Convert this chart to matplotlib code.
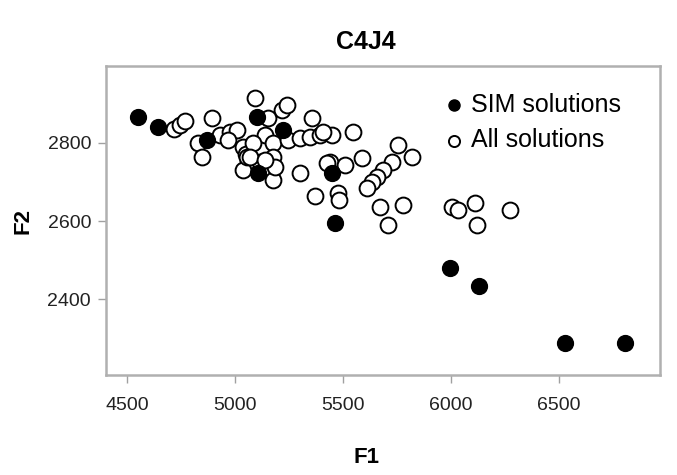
import matplotlib.pyplot as plt

plt.rcParams["font.family"] = ["Liberation Sans", "DejaVu Sans"]

# SIM solutions (filled)
sim_f1 = [4551, 4644, 4870, 5102, 5222, 5106, 5449, 5463, 5995, 6130, 6528, 6806]
sim_f2 = [2867, 2841, 2808, 2867, 2833, 2723, 2723, 2595, 2479, 2433, 2287, 2287]

# All solutions (open)
all_f1 = [4718, 4745, 4769, 4894, 4829, 4847, 4931, 4977, 5009, 4968,
          5037, 5051, 5060, 5037, 5093, 5218, 5241, 5357, 5139, 5083,
          5176, 5245, 5301, 5347, 5394, 5449, 5056, 5116, 5176, 5301,
          5176, 5440, 5546, 5407, 5588, 5509, 5426, 5755, 5820, 5727,
          5685, 5658, 5634, 5611, 5370, 5477, 5481, 5671, 5778, 5708,
          6005, 6032, 6111, 6120, 6273, 5069, 5185, 5139, 5153]
all_f2 = [2836, 2846, 2856, 2864, 2800, 2764, 2821, 2828, 2833, 2808,
          2790, 2772, 2754, 2731, 2915, 2885, 2897, 2864, 2821, 2800,
          2800, 2808, 2813, 2815, 2821, 2821, 2764, 2751, 2764, 2723,
          2705, 2751, 2828, 2828, 2762, 2744, 2749, 2795, 2764, 2751,
          2731, 2713, 2700, 2685, 2664, 2672, 2654, 2636, 2641, 2590,
          2636, 2628, 2646, 2590, 2628, 2764, 2738, 2756, 2864]

x_ticks = [4500, 5000, 5500, 6000, 6500]
y_ticks = [2400, 2600, 2800]

fig = plt.figure(figsize=(6.77, 4.75), dpi=100)
ax = fig.add_axes([0.157, 0.21, 0.818, 0.651])

ax.scatter(all_f1, all_f2, s=130, facecolors="white", edgecolors="black",
           linewidths=1.4, label="All solutions", zorder=2)
ax.scatter(sim_f1, sim_f2, s=130, color="black", label="SIM solutions", zorder=3)

ax.set_xlim(4403, 6970)
ax.set_ylim(2205, 2997)
ax.set_xticks(x_ticks)
ax.set_yticks(y_ticks)
ax.tick_params(axis="both", colors="#a0a0a0", labelcolor="#222222",
               labelsize=14, length=6, width=1)
ax.tick_params(axis="x", pad=10)
ax.tick_params(axis="y", pad=5)

for side in ax.spines.values():
    side.set_color("#b0b0b0")
    side.set_linewidth(1.8)

ax.set_title("C4J4", fontsize=18, fontweight="bold", x=0.469, pad=12)
ax.set_xlabel("F1", fontsize=16, fontweight="bold")
ax.xaxis.set_label_coords(0.469, -0.233)
ax.set_ylabel("F2", fontsize=16, fontweight="bold", labelpad=10)

handles, labels = ax.get_legend_handles_labels()
ax.legend(handles[::-1], labels[::-1], loc="upper left",
          bbox_to_anchor=(0.587, 0.945), frameon=False, fontsize=18,
          markerscale=0.7, handletextpad=0.2, labelspacing=0.45,
          handlelength=1.0, borderaxespad=0)

plt.savefig("out.png", dpi=100)
